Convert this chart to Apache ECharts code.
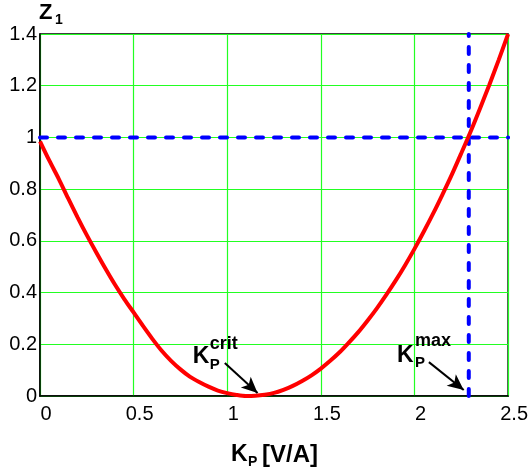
<!DOCTYPE html>
<html>
<head>
<meta charset="utf-8">
<script src="https://cdn.jsdelivr.net/npm/echarts@6/dist/echarts.min.js"></script>
<style>
  html, body { margin: 0; padding: 0; background: #fff; }
  #chart { width: 531px; height: 474px; }
</style>
</head>
<body>
<div id="chart"></div>
<script>
// Data
const kp = [0, 0.05, 0.1, 0.15, 0.2, 0.25, 0.3, 0.35, 0.4, 0.45, 0.5, 0.55, 0.6, 0.65, 0.7, 0.75, 0.8, 0.85, 0.9, 0.95,
            1.0, 1.05, 1.1, 1.15, 1.2, 1.25, 1.3, 1.35, 1.4, 1.45, 1.5, 1.55, 1.6, 1.65, 1.7, 1.75, 1.8, 1.85, 1.9, 1.95,
            2.0, 2.05, 2.1, 2.15, 2.2, 2.25, 2.3, 2.35, 2.4, 2.45, 2.5];
const z1 = [0.985, 0.91, 0.84, 0.765, 0.692, 0.622, 0.556, 0.492, 0.431, 0.375, 0.323, 0.271, 0.221, 0.175, 0.136, 0.103, 0.075, 0.054, 0.036, 0.021,
            0.011, 0.004, 0.0, 0.001, 0.005, 0.012, 0.024, 0.039, 0.058, 0.08, 0.106, 0.136, 0.169, 0.207, 0.247, 0.292, 0.34, 0.392, 0.447, 0.506,
            0.569, 0.636, 0.706, 0.78, 0.857, 0.939, 1.023, 1.112, 1.204, 1.3, 1.4];
const zLimit = 1;          // horizontal dashed line
const kpMax = 2.29;        // vertical dashed line
const xTicks = [0, 0.5, 1, 1.5, 2, 2.5];
const yTicks = [0, 0.2, 0.4, 0.6, 0.8, 1, 1.2, 1.4];
const arrowCrit = [[0.987, 0.128], [1.162, 0.012]];
const arrowMax = [[2.077, 0.131], [2.263, 0.023]];

const FONT = "'Liberation Sans', Arial, sans-serif";
const chart = echarts.init(document.getElementById('chart'), null, { renderer: 'canvas' });

const curve = kp.map((x, i) => [x, z1[i]]);
const xMin = xTicks[0], xMax = xTicks[xTicks.length - 1];
const yMin = yTicks[0], yMax = yTicks[yTicks.length - 1];

const dashStyle = { color: '#0000ff', width: 4, type: [7, 11], cap: 'round' };
const gridGreen = '#22ff22';

chart.setOption({
  animation: false,
  backgroundColor: '#fff',
  grid: { left: 40, right: 21, top: 34, bottom: 78, show: true, borderColor: '#000', borderWidth: 1.5, backgroundColor: 'transparent' },
  xAxis: {
    type: 'value', min: xMin, max: xMax, interval: 0.5,
    axisLine: { show: true, lineStyle: { color: '#000', width: 1.5 } },
    axisTick: { show: false },
    minorTick: { show: false },
    minorSplitLine: { show: false },
    splitLine: { show: true, lineStyle: { color: gridGreen, width: 1.2, opacity: 1 } },
    axisLabel: { color: '#000', fontSize: 20, fontFamily: FONT, margin: 8, padding: [0, 0, 0, 12], showMinLabel: true, showMaxLabel: true }
  },
  yAxis: {
    type: 'value', min: yMin, max: yMax, interval: 0.2,
    axisLine: { show: true, lineStyle: { color: '#000', width: 1.5 } },
    axisTick: { show: false },
    splitLine: { show: true, lineStyle: { color: gridGreen, width: 1.2, opacity: 1 } },
    axisLabel: { color: '#000', fontSize: 20, fontFamily: FONT, margin: 3, padding: [5, 0, 0, 0] }
  },
  series: [
    {
      type: 'line', data: [[xMin, zLimit], [xMax, zLimit]], showSymbol: false, lineStyle: dashStyle, z: 3, silent: true
    },
    {
      type: 'line', data: [[kpMax, yMin], [kpMax, yMax]], showSymbol: false, lineStyle: dashStyle, z: 3, silent: true
    },
    {
      type: 'line', data: curve, showSymbol: false, smooth: 0.3,
      lineStyle: { color: '#ff0000', width: 4 }, z: 4, silent: true,
      markLine: {
        silent: true, symbol: ['none', 'arrow'], symbolSize: [11, 16],
        lineStyle: { color: '#000', width: 2, type: 'solid' },
        label: { show: false },
        data: [
          [{ coord: arrowCrit[0] }, { coord: arrowCrit[1] }],
          [{ coord: arrowMax[0] }, { coord: arrowMax[1] }]
        ]
      }
    }
  ]
});

function txt(x, y, text, size, align) {
  return { type: 'text', x: x, y: y, z: 100, style: { text: text, fill: '#000', font: 'bold ' + size + 'px ' + FONT, align: align || 'left', verticalAlign: 'middle' } };
}

const pCrit = chart.convertToPixel({ gridIndex: 0 }, arrowCrit[0]);
const pMax = chart.convertToPixel({ gridIndex: 0 }, arrowMax[0]);
const pTop = chart.convertToPixel({ gridIndex: 0 }, [xMin, yMax]);
const pBot = chart.convertToPixel({ gridIndex: 0 }, [(xMin + xMax) / 2, yMin]);

chart.setOption({
  graphic: [
    // Y axis title Z1
    txt(pTop[0] - 1, pTop[1] - 21, 'Z', 22),
    txt(pTop[0] + 15, pTop[1] - 14, '1', 14),
    // X axis title
    txt(pBot[0] - 43, pBot[1] + 59, 'K', 23),
    txt(pBot[0] - 26, pBot[1] + 66, 'P', 14),
    txt(pBot[0] - 12, pBot[1] + 59, '[V/A]', 24),
    // K_P^crit
    txt(pCrit[0] - 32, pCrit[1] - 6, 'K', 23),
    txt(pCrit[0] - 15, pCrit[1] + 2, 'P', 15),
    txt(pCrit[0] - 15, pCrit[1] - 19, 'crit', 18),
    // K_P^max
    txt(pMax[0] - 32, pMax[1] - 6, 'K', 23),
    txt(pMax[0] - 14, pMax[1] + 1, 'P', 15),
    txt(pMax[0] - 14, pMax[1] - 21, 'max', 18)
  ]
});
</script>
</body>
</html>
